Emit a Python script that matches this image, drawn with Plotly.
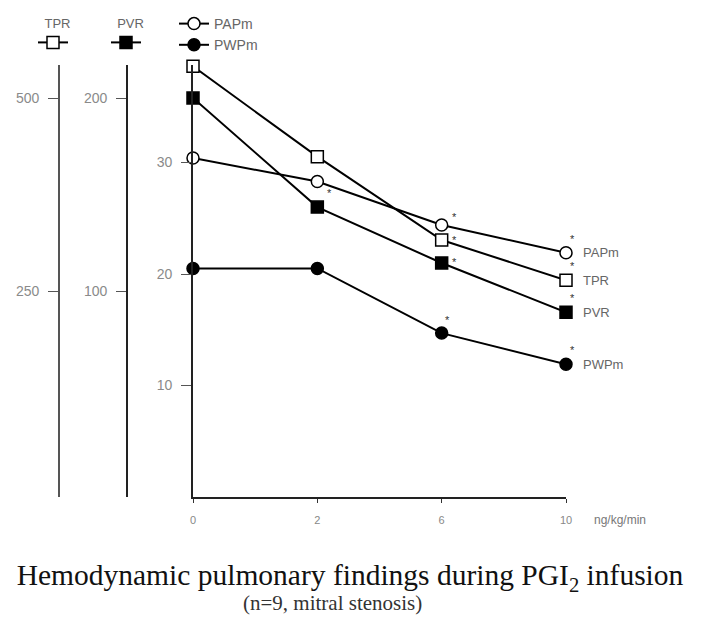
import plotly.graph_objects as go

# ---------------- data ----------------
doses = ["0", "2", "6", "10"]              # PGI2 dose, ng/kg/min
PAPm = [30.4, 28.3, 24.4, 21.9]            # mmHg (left main axis)
PWPm = [20.5, 20.5, 14.7, 11.9]            # mmHg (left main axis)
PVR = [200, 143.5, 114.5, 89]              # PVR axis
TPR = [541, 424, 316, 264]                 # TPR axis
sig_PAPm = [False, True, True, True]
sig_TPR = [False, False, True, True]
sig_PVR = [False, False, True, True]
sig_PWPm = [False, False, True, True]
main_ticks = [10, 20, 30]
pvr_ticks = [100, 200]
tpr_ticks = [250, 500]

# ---------------- geometry (page pixels of the reference) ----------------
W, H = 701, 617
OFF = 8                                   # page body margin
TOP, BOT, LEFT0, RIGHT = 65, 497, 20, 566
L = LEFT0 - OFF
T = TOP - OFF
B = H - (BOT - OFF)
R = W - (RIGHT - OFF)
pw = W - L - R
ph = H - T - B
def px(x):
    return (x - LEFT0) / pw
def cx(x):
    return (x - OFF) / W
def cy(y):
    return 1 - (y - OFF) / H

AXC = "#222"
TICKFONT = dict(family="Liberation Sans", size=14, color="#8a8a8a")

fig = go.Figure()

def add(y, yaxis, symbol, fill, legend, showname):
    fig.add_trace(go.Scatter(
        x=doses, y=y, yaxis=yaxis, name=showname, legend=legend,
        mode="lines+markers", cliponaxis=False,
        line=dict(color="black", width=2),
        marker=dict(symbol=symbol, size=12, color=fill,
                    line=dict(color="black", width=1.5)),
        showlegend=True))

add(PAPm, "y", "circle", "white", "legend", "PAPm")
add(PWPm, "y", "circle", "black", "legend", "PWPm")
add(TPR, "y3", "square", "white", "legend2", " ")
add(PVR, "y2", "square", "black", "legend3", " ")

ann = []
last = len(doses) - 1
# right-side series labels
for nm, y, yr in [("PAPm", PAPm, "y"), ("TPR", TPR, "y3"), ("PVR", PVR, "y2"), ("PWPm", PWPm, "y")]:
    ann.append(dict(x=last, y=y[-1], xref="x", yref=yr, text=nm, showarrow=False,
                    xanchor="left", yanchor="middle", xshift=15,
                    font=dict(family="Liberation Sans", size=13, color="#666")))
# significance asterisks
offs = {("PAPm", 1): (12, -12), ("PAPm", 2): (13, 8), ("TPR", 2): (13, 0), ("PVR", 2): (13, 1),
        ("PWPm", 2): (6, 13)}
for nm, y, yr, sig in [("PAPm", PAPm, "y", sig_PAPm), ("TPR", TPR, "y3", sig_TPR),
                       ("PVR", PVR, "y2", sig_PVR), ("PWPm", PWPm, "y", sig_PWPm)]:
    for i, s in enumerate(sig):
        if s:
            dx, dy = offs.get((nm, i), (6, 14))
            ann.append(dict(x=i, y=y[i], xref="x", yref=yr, text="*", showarrow=False,
                            xshift=dx, yshift=dy,
                            font=dict(family="Liberation Sans", size=11, color="#333")))
# unit label
ann.append(dict(x=last, y=0, xref="x", yref="y", text="ng/kg/min", showarrow=False,
                xanchor="left", yanchor="middle", xshift=26, yshift=-23,
                font=dict(family="Liberation Sans", size=12, color="#777")))
# subtitle
ann.append(dict(x=px(332), y=(BOT - 603) / ph, xref="paper", yref="paper",
                text="(n=9, mitral stenosis)", showarrow=False, yanchor="middle",
                font=dict(family="Liberation Serif", size=21, color="#333")))

common_y = dict(showline=True, linecolor=AXC, linewidth=1.6, ticks="outside", ticklen=10,
                tickcolor="#555", showgrid=False, zeroline=False, tickfont=TICKFONT,
                automargin=False, ticklabelstandoff=6)

fig.update_layout(
    template="none",
    width=W, height=H, autosize=False,
    font=dict(family="Liberation Sans", color="#666"),
    margin=dict(l=L, r=R, t=T, b=B, autoexpand=False),
    paper_bgcolor="white", plot_bgcolor="white",
    title=dict(text="Hemodynamic pulmonary findings during PGI<sub>2</sub> infusion",
               x=cx(350), xref="container", xanchor="center",
               y=cy(575), yref="container", yanchor="middle",
               font=dict(family="Liberation Serif", size=29.5, color="#111")),
    xaxis=dict(type="category", range=[0, 3], domain=[px(193), 1], automargin=False,
               showline=True, linecolor=AXC, linewidth=1.6,
               ticks="outside", ticklen=4, tickcolor="#333", showgrid=False, zeroline=False,
               tickfont=dict(family="Liberation Sans", size=11, color="#888"),
               ticklabelstandoff=8),
    yaxis=dict(range=[0, (BOT - TOP) / 11.15], tickvals=main_ticks, **common_y),
    yaxis2=dict(range=[-(BOT - 484) / 1.93, (484 - TOP) / 1.93], tickvals=pvr_ticks,
                overlaying="y", anchor="free", position=px(127), side="left", **common_y),
    yaxis3=dict(range=[-(BOT - 484) / 0.772, (484 - TOP) / 0.772], tickvals=tpr_ticks,
                overlaying="y", anchor="free", position=px(59), side="left",
                **{**common_y, "linecolor": "#555"}),
    legend=dict(xref="container", yref="container", x=166 / W, y=1,
                xanchor="left", yanchor="top", bgcolor="rgba(0,0,0,0)",
                font=dict(family="Liberation Sans", size=14, color="#666"),
                tracegroupgap=0, itemwidth=30),
    legend2=dict(xref="container", yref="container", x=25 / W, y=1 - 3 / H,
                 xanchor="left", yanchor="top", bgcolor="rgba(0,0,0,0)",
                 title=dict(text="TPR", side="top center",
                            font=dict(family="Liberation Sans", size=13, color="#666")),
                 font=dict(size=11), itemwidth=30),
    legend3=dict(xref="container", yref="container", x=98 / W, y=1 - 3 / H,
                 xanchor="left", yanchor="top", bgcolor="rgba(0,0,0,0)",
                 title=dict(text="PVR", side="top center",
                            font=dict(family="Liberation Sans", size=13, color="#666")),
                 font=dict(size=11), itemwidth=30),
    annotations=ann,
    showlegend=True,
)

fig.write_html("out.html")
